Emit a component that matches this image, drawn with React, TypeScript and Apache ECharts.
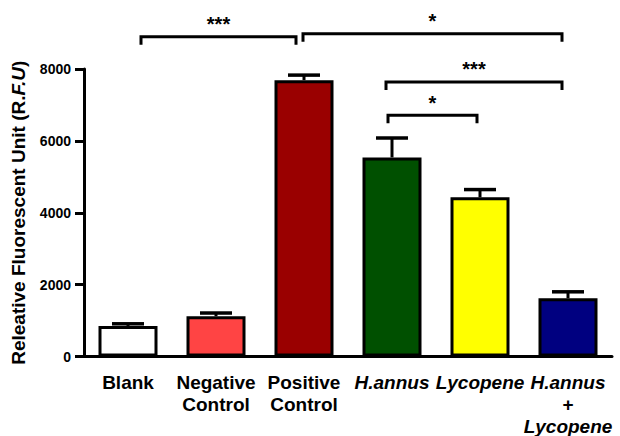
import React, { useEffect, useRef } from 'react';
import * as echarts from 'echarts';

const categories = ['Blank', 'Negative\nControl', 'Positive\nControl', 'H.annus', 'Lycopene', 'H.annus\n+\nLycopene'];
const italicTerms = ['H.annus', 'Lycopene'];
const meanValues = [850, 1120, 7690, 5540, 4430, 1620];
const semValues = [60, 90, 140, 540, 215, 180];
const yTickInterval = 2000;
const yMax = 8000;
const comparisonFrom = [0, 2, 3, 3];
const comparisonTo = [2, 5, 5, 4];
const comparisonHeights = [8900, 8980, 7640, 6710];
const comparisonLabels = ['***', '*', '***', '*'];

// styles
const barColors = ['#FFFFFF', '#FF4444', '#9A0000', '#005000', '#FFFF00', '#000080'];
const bracketInsets = [[13, -8], [-1, -6], [-6, -6], [-4, -3]];
const FONT = "'Liberation Sans', Arial, sans-serif";

function formatCategory(c: string): string {
  return c
    .split('\n')
    .map((line) => (italicTerms.includes(line) ? `{i|${line}}` : `{b|${line}}`))
    .join('\n');
}

export default function App() {
  const ref = useRef<HTMLDivElement>(null);
  useEffect(() => {
    if (!ref.current) return;
    const chart = echarts.init(ref.current, undefined, { renderer: 'svg' });
    const option: any = {
      animation: false,
      backgroundColor: '#ffffff',
      grid: { left: 84, right: 8, top: 69, bottom: 75, containLabel: false },
      xAxis: {
        type: 'category',
        data: categories,
        axisLine: { show: true, lineStyle: { color: '#000', width: 3 } },
        axisTick: { show: false },
        axisLabel: {
          interval: 0,
          margin: 15,
          formatter: (v: string) => formatCategory(v),
          rich: {
            b: { fontFamily: FONT, fontWeight: 'bold', fontSize: 19, color: '#000', lineHeight: 22 },
            i: { fontFamily: FONT, fontWeight: 'bold', fontStyle: 'italic', fontSize: 19, color: '#000', lineHeight: 22 },
          },
        },
      },
      yAxis: {
        type: 'value',
        min: 0,
        max: yMax,
        interval: yTickInterval,
        name: '{n|Releative Fluorescent Unit (R.}{i|F.U}{n|)}',
        nameLocation: 'middle',
        nameRotate: 90,
        nameGap: 56,
        nameTextStyle: {
          rich: {
            n: { fontFamily: FONT, fontWeight: 'bold', fontSize: 19, color: '#000' },
            i: { fontFamily: FONT, fontWeight: 'bold', fontStyle: 'italic', fontSize: 19, color: '#000' },
          },
        },
        axisLine: { show: true, lineStyle: { color: '#000', width: 3 } },
        axisTick: { show: true, length: 9, lineStyle: { color: '#000', width: 3 } },
        splitLine: { show: false },
        axisLabel: {
          margin: 13,
          fontFamily: FONT,
          fontWeight: 'bold',
          fontSize: 14,
          color: '#000',
          formatter: (v: number) => String(v),
        },
      },
      series: [
        {
          type: 'bar',
          barWidth: 59,
          data: meanValues.map((v, i) => ({ value: v, itemStyle: { color: barColors[i] } })),
          itemStyle: { borderColor: '#000', borderWidth: 3 },
          z: 2,
        },
        {
          type: 'custom',
          z: 3,
          clip: false,
          encode: { x: 0, y: 1 },
          data: meanValues.map((m, i) => [i, m, semValues[i]]),
          renderItem: (params: any, api: any) => {
            const base = api.coord([api.value(0), api.value(1)]);
            const top = api.coord([api.value(0), api.value(1) + api.value(2)]);
            return {
              type: 'group',
              children: [
                { type: 'line', shape: { x1: base[0], y1: base[1], x2: base[0], y2: top[1] }, style: { stroke: '#000', lineWidth: 3 } },
                { type: 'line', shape: { x1: base[0] - 16, y1: top[1], x2: base[0] + 16, y2: top[1] }, style: { stroke: '#000', lineWidth: 3.5 } },
              ],
            };
          },
        },
        {
          type: 'custom',
          z: 4,
          clip: false,
          encode: { x: 0, y: 2 },
          data: comparisonFrom.map((f, i) => [f, comparisonTo[i], comparisonHeights[i]]),
          renderItem: (params: any, api: any) => {
            const i = params.dataIndex;
            const p1 = api.coord([api.value(0), api.value(2)]);
            const p2 = api.coord([api.value(1), api.value(2)]);
            const x1 = p1[0] + bracketInsets[i][0];
            const x2 = p2[0] + bracketInsets[i][1];
            const y = p1[1];
            return {
              type: 'group',
              children: [
                {
                  type: 'polyline',
                  shape: { points: [[x1, y + 8], [x1, y], [x2, y], [x2, y + 8]] },
                  style: { stroke: '#000', lineWidth: 3, fill: null },
                },
                {
                  type: 'text',
                  x: (x1 + x2) / 2,
                  y: y - 12.5,
                  style: {
                    text: comparisonLabels[i],
                    fontFamily: FONT,
                    fontWeight: 'bold',
                    fontSize: 20,
                    fill: '#000',
                    align: 'center',
                    verticalAlign: 'middle',
                  },
                },
              ],
            };
          },
        },
      ],
    };
    chart.setOption(option);
    return () => chart.dispose();
  }, []);
  return <div ref={ref} style={{ position: 'fixed', left: 0, top: 0, width: 620, height: 436 }} />;
}
